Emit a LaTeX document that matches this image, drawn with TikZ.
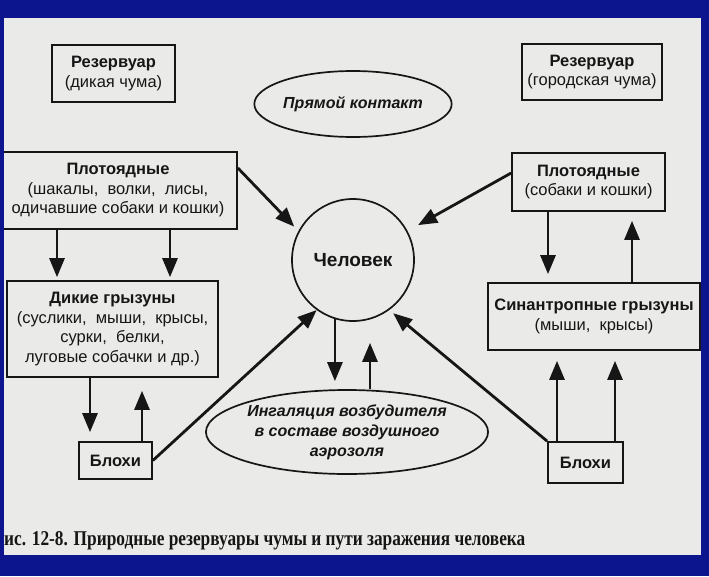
\documentclass[tikz,border=0pt]{standalone}
\usepackage{fontspec}
\setmainfont{Liberation Sans}
\newfontfamily\capfont{Liberation Serif}
\usepackage{xcolor}
\usepackage{graphicx}
\usetikzlibrary{arrows.meta,shapes.geometric,calc}
\definecolor{fondo}{RGB}{12,20,142}
\definecolor{papel}{RGB}{234,234,232}
\definecolor{tinta}{RGB}{22,22,22}
\tikzset{
  caja/.style={draw=tinta,line width=1.7pt,align=center,inner sep=0pt,text=tinta,font=\fontsize{16.5}{19.5}\selectfont},
  oval/.style={ellipse,draw=tinta,line width=1.7pt,align=center,inner sep=0pt,text=tinta,font=\fontsize{16}{20}\selectfont\bfseries\itshape},
  flecha/.style={-{Triangle[length=19pt,width=15pt]},line width=2.8pt,draw=tinta}
}

\begin{document}
\begin{tikzpicture}[x=1pt,y=-1pt]
\useasboundingbox (0,0) rectangle (709,576);
\fill[fondo] (0,0) rectangle (709,576);
\fill[papel] (4,18) rectangle (701,555);
\begin{scope}
\clip (4,18) rectangle (701,555);
% reservorios
\node[caja,minimum width=123pt,minimum height=57pt] (res1) at (113.5,73.5) {\textbf{Резервуар}\\(дикая чума)};
\node[caja,minimum width=140pt,minimum height=56pt] (res2) at (592,72) {\textbf{Резервуар}\\(городская чума)};
\node[oval,minimum width=156pt,minimum height=66pt] (contact) at (353,104) {Прямой контакт};
% lado izquierdo
\node[caja,minimum width=238pt,minimum height=77pt] (carn1) at (118,190.5) {\textbf{Плотоядные}\\(шакалы, \ волки, \ лисы,\\одичавшие собаки и кошки)};
\node[caja,minimum width=211pt,minimum height=96pt] (wild) at (112.5,329) {\textbf{Дикие грызуны}\\(суслики, \ мыши, \ крысы,\\сурки, \ белки,\\луговые собачки и др.)};
\node[caja,minimum width=73pt,minimum height=37pt] (flea1) at (115.5,460.5) {\textbf{Блохи}};
% centro
\node[circle,draw=tinta,line width=1.7pt,minimum size=122pt,inner sep=0pt,text=tinta,font=\fontsize{19}{22}\selectfont\bfseries] (human) at (353,260) {Человек};
\node[oval,minimum width=224pt,minimum height=84pt] (inhal) at (347,432) {Ингаляция возбудителя\\в составе воздушного\\аэрозоля};
% lado derecho
\node[caja,minimum width=153pt,minimum height=58pt] (carn2) at (588.5,182) {\textbf{Плотоядные}\\(собаки и кошки)};
\node[caja,minimum width=212pt,minimum height=67pt] (synan) at (594,316.5) {\textbf{Синантропные грызуны}\\(мыши, \ крысы)};
\node[caja,minimum width=75pt,minimum height=41pt] (flea2) at (585.5,462.5) {\textbf{Блохи}};
% flechas verticales
\draw[flecha,shorten >=3pt] ([xshift=-61pt]carn1.south) -- ([xshift=-61pt]carn1.south |- wild.north);
\draw[flecha,shorten >=3pt] ([xshift=52pt]carn1.south) -- ([xshift=52pt]carn1.south |- wild.north);
\draw[flecha,shorten >=9pt] ([xshift=-22.5pt]wild.south) -- ([xshift=-22.5pt]wild.south |- flea1.north);
\draw[flecha,shorten >=13pt] ([xshift=26.5pt]flea1.north) -- ([xshift=26.5pt]flea1.north |- wild.south);
\draw[flecha,shorten >=8pt] ([xshift=-40.5pt]carn2.south) -- ([xshift=-40.5pt]carn2.south |- synan.north);
\draw[flecha,shorten >=9pt] ([xshift=38pt]synan.north) -- ([xshift=38pt]synan.north |- carn2.south);
\draw[flecha,shorten >=10pt] ([xshift=-28.5pt]flea2.north) -- ([xshift=-28.5pt]flea2.north |- synan.south);
\draw[flecha,shorten >=10pt] ([xshift=29.5pt]flea2.north) -- ([xshift=29.5pt]flea2.north |- synan.south);
\draw[flecha,shorten >=8pt] (human.253) -- (human.253 |- inhal.north);
\draw[flecha,shorten >=21pt] ([xshift=23pt]inhal.north) -- ([xshift=23pt]inhal.north |- human.south);
% flechas hacia el hombre
\draw[flecha,shorten >=6pt] ([yshift=22.5pt]carn1.east) -- (human.152);
\draw[flecha,shorten >=12pt] ([yshift=9pt]carn2.west) -- (human.28);
\draw[flecha] (flea1.east) -- (human.234);
\draw[flecha,shorten >=5pt] (flea2.north west) -- (human.306);
% pie de figura
\node[anchor=base west,inner sep=0pt,text=tinta] (caption) at (4,545) {\capfont\bfseries\resizebox{521pt}{14pt}{ис. 12-8. Природные резервуары чумы и пути заражения человека}};
\end{scope}
\end{tikzpicture}
\end{document}
